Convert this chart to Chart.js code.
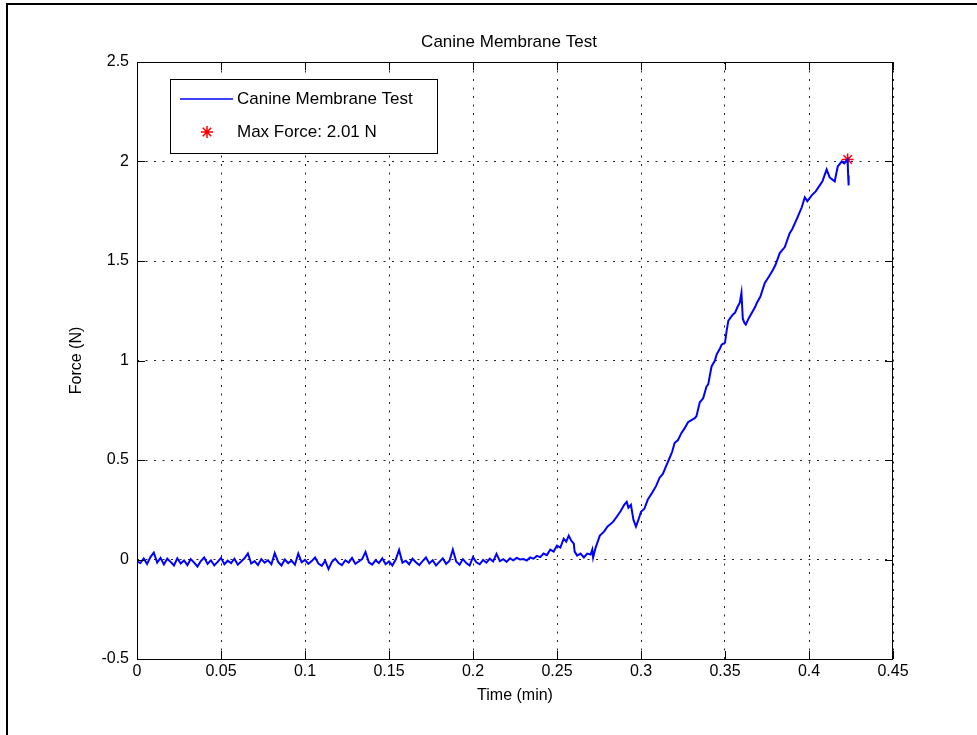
<!DOCTYPE html>
<html>
<head>
<meta charset="utf-8">
<title>Canine Membrane Test</title>
<script src="https://cdn.jsdelivr.net/npm/chart.js@4/dist/chart.umd.min.js"></script>
<style>
html, body { margin: 0; padding: 0; background: #fff; }
#wrap { width: 977px; height: 735px; }
</style>
</head>
<body>
<div id="wrap"><canvas id="forceChart" width="977" height="735"></canvas></div>
<script>
// time (min) and force (N)
const timeMin = [
  0.000, 0.002, 0.004, 0.006, 0.008, 0.010, 0.012, 0.014, 0.016, 0.018,
  0.020, 0.022, 0.024, 0.026, 0.028, 0.030, 0.032, 0.034, 0.036, 0.038,
  0.040, 0.042, 0.044, 0.046, 0.048, 0.050, 0.052, 0.054, 0.056, 0.058,
  0.060, 0.062, 0.064, 0.066, 0.068, 0.070, 0.072, 0.074, 0.076, 0.078,
  0.080, 0.082, 0.084, 0.086, 0.088, 0.090, 0.092, 0.094, 0.096, 0.098,
  0.100, 0.102, 0.104, 0.106, 0.108, 0.110, 0.112, 0.114, 0.116, 0.118,
  0.120, 0.122, 0.124, 0.126, 0.128, 0.130, 0.132, 0.134, 0.136, 0.138,
  0.140, 0.142, 0.144, 0.146, 0.148, 0.150, 0.152, 0.154, 0.156, 0.158,
  0.160, 0.162, 0.164, 0.166, 0.168, 0.170, 0.172, 0.174, 0.176, 0.178,
  0.180, 0.182, 0.184, 0.186, 0.188, 0.190, 0.192, 0.194, 0.196, 0.198,
  0.200, 0.202, 0.204, 0.206, 0.208, 0.210, 0.212, 0.214, 0.216, 0.218,
  0.220, 0.222, 0.224, 0.226, 0.228,
  0.230, 0.232, 0.234, 0.236, 0.238, 0.240, 0.242, 0.244, 0.246, 0.248,
  0.250, 0.252, 0.254, 0.2555, 0.257, 0.2585, 0.260, 0.2605, 0.262, 0.264,
  0.266, 0.268, 0.270, 0.271, 0.2715, 0.273, 0.2755, 0.278, 0.280, 0.2835,
  0.286, 0.288, 0.290, 0.2915, 0.2925, 0.294, 0.2955, 0.297, 0.2985, 0.300,
  0.302, 0.304, 0.307, 0.309, 0.311, 0.313, 0.315, 0.317, 0.3185, 0.320,
  0.322, 0.324, 0.326, 0.328, 0.330, 0.332, 0.333, 0.335, 0.337, 0.339,
  0.340, 0.342, 0.344, 0.345, 0.347, 0.348, 0.350, 0.351, 0.352, 0.3546,
  0.356, 0.3575, 0.3588, 0.3598, 0.3606, 0.3615, 0.3624, 0.364, 0.366, 0.368,
  0.369, 0.371, 0.3737, 0.376, 0.3785, 0.380, 0.3826, 0.3856, 0.3885, 0.390,
  0.3927, 0.3957, 0.3975, 0.399, 0.4016, 0.404, 0.4064, 0.408, 0.4105, 0.4123,
  0.4153, 0.4171, 0.4195, 0.421, 0.4230, 0.4233, 0.4236
];
const forceN = [
  -0.010, -0.018, 0.005, -0.022, 0.012, 0.035, -0.015, 0.008, -0.025, 0.004,
  -0.012, -0.030, 0.006, -0.020, -0.005, -0.028, 0.002, -0.016, -0.035, -0.008,
  0.010, -0.022, -0.004, -0.030, -0.012, 0.008, -0.024, -0.006, -0.018, 0.004,
  -0.026, -0.010, 0.006, 0.030, -0.020, -0.008, -0.028, 0.002, -0.016, -0.004,
  -0.024, 0.032, -0.012, -0.030, 0.000, -0.018, -0.006, -0.026, 0.030, -0.014,
  -0.002, -0.022, -0.008, 0.010, -0.020, -0.032, -0.006, -0.048, -0.012, 0.004,
  -0.018, -0.028, -0.004, -0.016, 0.008, -0.022, -0.010, 0.002, 0.038, -0.014,
  -0.026, -0.004, -0.018, 0.006, -0.024, -0.010, -0.030, 0.000, 0.048, -0.016,
  -0.006, -0.024, 0.004, -0.014, -0.028, -0.008, 0.010, -0.020, -0.004, -0.030,
  -0.012, 0.006, -0.022, -0.006, 0.050, -0.010, -0.026, 0.002, -0.018, -0.030,
  0.012, -0.014, -0.024, -0.002, -0.016, 0.004, -0.010, 0.028, -0.008, 0.002,
  -0.012, 0.006, -0.004, 0.008, 0.000,
  0.002, -0.005, 0.010, 0.004, 0.018, 0.012, 0.030, 0.022, 0.050, 0.040,
  0.070, 0.060, 0.105, 0.090, 0.120, 0.095, 0.080, 0.040, 0.020, 0.030,
  0.010, 0.030, 0.025, 0.050, 0.010, 0.060, 0.120, 0.140, 0.165, 0.190,
  0.220, 0.245, 0.275, 0.290, 0.260, 0.275, 0.200, 0.165, 0.200, 0.240,
  0.255, 0.300, 0.340, 0.370, 0.410, 0.430, 0.470, 0.510, 0.540, 0.585,
  0.600, 0.635, 0.660, 0.690, 0.700, 0.710, 0.720, 0.790, 0.810, 0.870,
  0.880, 0.970, 1.000, 1.030, 1.060, 1.080, 1.090, 1.150, 1.200, 1.230,
  1.240, 1.270, 1.290, 1.340, 1.210, 1.190, 1.180, 1.210, 1.240, 1.270,
  1.290, 1.320, 1.390, 1.420, 1.455, 1.480, 1.540, 1.570, 1.640, 1.660,
  1.710, 1.770, 1.820, 1.800, 1.830, 1.850, 1.880, 1.900, 1.960, 1.920,
  1.900, 1.975, 2.000, 1.990, 2.010, 1.930, 1.880
];
const maxTime = [0.4230];
const maxForce = [2.01];

const xTicks = [0, 0.05, 0.1, 0.15, 0.2, 0.25, 0.3, 0.35, 0.4, 0.45];
const yTicks = [-0.5, 0, 0.5, 1, 1.5, 2, 2.5];

const FONT = "'Liberation Sans', Arial, Helvetica, sans-serif";

// plain matlab-style number: 0.1 not 0.10, 2 not 2.0
const tickText = v => String(+(+v).toFixed(3));

// matlab-ish look: outer frame, title, closed box, inward ticks, legend inside axes
const matlabLook = {
  id: 'matlabLook',
  beforeDraw(chart) {
    const ctx = chart.ctx;
    ctx.save();
    ctx.fillStyle = '#fff';
    ctx.fillRect(0, 0, chart.width, chart.height);
    ctx.strokeStyle = '#000';
    ctx.lineWidth = 2;
    ctx.beginPath();
    ctx.moveTo(7, chart.height);
    ctx.lineTo(7, 4);
    ctx.lineTo(chart.width, 4);
    ctx.stroke();
    ctx.restore();
  },
  afterDraw(chart) {
    const ctx = chart.ctx;
    const a = chart.chartArea;
    const xs = chart.scales.x, ys = chart.scales.y;
    ctx.save();

    ctx.fillStyle = '#000';
    ctx.font = '17px ' + FONT;
    ctx.textAlign = 'center';
    ctx.textBaseline = 'middle';
    ctx.fillText('Canine Membrane Test', (a.left + a.right) / 2 - 6, 42);

    ctx.strokeStyle = '#000';
    ctx.lineWidth = 1;
    ctx.strokeRect(a.left + 0.5, a.top + 0.5, a.right - a.left - 1, a.bottom - a.top);

    const tl = 8;
    ctx.beginPath();
    xTicks.forEach(v => {
      const px = Math.round(xs.getPixelForValue(v)) + 0.5;
      ctx.moveTo(px, a.bottom); ctx.lineTo(px, a.bottom - tl);
      ctx.moveTo(px, a.top); ctx.lineTo(px, a.top + tl);
    });
    yTicks.forEach(v => {
      const py = Math.round(ys.getPixelForValue(v)) + 0.5;
      ctx.moveTo(a.left, py); ctx.lineTo(a.left + tl, py);
      ctx.moveTo(a.right, py); ctx.lineTo(a.right - tl, py);
    });
    ctx.stroke();

    // legend box
    const lx = 170.5, ly = 79.5, lw = 267, lh = 74;
    ctx.fillStyle = '#fff';
    ctx.fillRect(lx, ly, lw, lh);
    ctx.strokeRect(lx, ly, lw, lh);

    const line = chart.data.datasets[0];
    const star = chart.data.datasets[1];
    ctx.strokeStyle = line.borderColor;
    ctx.lineWidth = 1.5;
    ctx.beginPath();
    ctx.moveTo(180, 99);
    ctx.lineTo(233, 99);
    ctx.stroke();
    ctx.strokeStyle = star.borderColor;
    ctx.fillStyle = star.backgroundColor;
    Chart.helpers.drawPoint(ctx, {
      pointStyle: 'star', radius: star.pointRadius, borderWidth: star.borderWidth, rotation: 0
    }, 207, 132);

    ctx.fillStyle = '#000';
    ctx.font = '17px ' + FONT;
    ctx.textAlign = 'left';
    ctx.textBaseline = 'middle';
    ctx.fillText(line.label, 237, 99);
    ctx.fillText(star.label, 237, 132);
    ctx.restore();
  }
};

const ctx = document.getElementById('forceChart').getContext('2d');
const chart = new Chart(ctx, {
  type: 'scatter',
  data: {
    datasets: [{
      label: 'Canine Membrane Test',
      data: timeMin.map((t, i) => ({ x: t, y: forceN[i] })),
      showLine: true,
      borderColor: '#0000ff',
      borderWidth: 2,
      pointRadius: 0,
      tension: 0
    }, {
      label: 'Max Force: 2.01 N',
      data: maxTime.map((t, i) => ({ x: t, y: maxForce[i] })),
      showLine: false,
      pointStyle: 'star',
      pointRadius: 6,
      borderColor: '#ff0000',
      backgroundColor: '#ff0000',
      borderWidth: 1.5
    }]
  },
  options: {
    responsive: false,
    animation: false,
    layout: { padding: { left: 64, right: 84, top: 62, bottom: 30 } },
    plugins: {
      legend: { display: false },
      title: { display: false },
      tooltip: { enabled: false }
    },
    scales: {
      x: {
        type: 'linear',
        min: 0,
        max: 0.45,
        afterFit: s => { s.height = 46; },
        afterBuildTicks: s => { s.ticks = xTicks.map(v => ({ value: v })); },
        ticks: { color: '#000', font: { family: FONT, size: 16 }, padding: 3, maxRotation: 0, callback: tickText },
        grid: { color: '#222', lineWidth: 1, drawTicks: false, tickLength: 0 },
        border: { display: false, dash: [2, 6.5] },
        title: { display: true, text: 'Time (min)', color: '#000', font: { family: FONT, size: 16 }, padding: 0 }
      },
      y: {
        type: 'linear',
        min: -0.5,
        max: 2.5,
        afterFit: s => { s.width = 73; },
        afterBuildTicks: s => { s.ticks = yTicks.map(v => ({ value: v })); },
        ticks: { color: '#000', font: { family: FONT, size: 16 }, padding: 8, callback: tickText },
        grid: { color: '#222', lineWidth: 1, drawTicks: false, tickLength: 0 },
        border: { display: false, dash: [2, 6.5] },
        title: { display: true, text: 'Force (N)', color: '#000', font: { family: FONT, size: 16 }, padding: 3 }
      }
    }
  },
  plugins: [matlabLook]
});
</script>
</body>
</html>
